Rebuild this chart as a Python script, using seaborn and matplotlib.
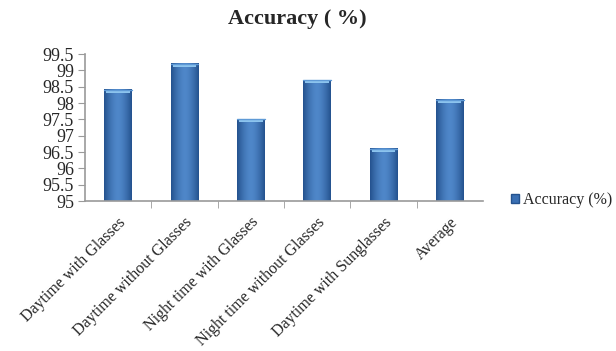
import numpy as np
import pandas as pd
import matplotlib
matplotlib.use("Agg")
import matplotlib.pyplot as plt
import seaborn as sns
from matplotlib.patches import Patch

categories = ["Daytime with Glasses", "Daytime without Glasses", "Night time with Glasses",
              "Night time without Glasses", "Daytime with Sunglasses", "Average"]
accuracy = [98.4, 99.2, 97.5, 98.7, 96.6, 98.1]
y_ticks = [95, 95.5, 96, 96.5, 97, 97.5, 98, 98.5, 99, 99.5]
series_name = "Accuracy (%)"
title_text = "Accuracy ( %)"

sns.set_style("white")
plt.rcParams["font.family"] = ["Liberation Serif", "DejaVu Serif"]

df = pd.DataFrame({"Condition": categories, "Accuracy": accuracy})

fig = plt.figure(figsize=(6.16, 3.51), dpi=100)
ax = fig.add_axes([0.138, 0.427, 0.646, 0.419])

sns.barplot(data=df, x="Condition", y="Accuracy", color="#3a6fb3", width=0.42,
            saturation=1, ax=ax, edgecolor="none")

ymin, ymax = 95, 99.5
ax.set_ylim(ymin, ymax)
ax.set_xlim(-0.5, len(categories) - 0.5)
ax.set_yticks(y_ticks)
ax.set_yticklabels([f"{t:g}" for t in y_ticks], fontsize=13)

# shaded fill for each bar: darker at the sides, lighter toward the middle, pale cap on top
grad = np.linspace(-1, 1, 64)
shade = 1 - np.abs(grad) ** 1.6
dark = np.array([0x24, 0x52, 0x8e]) / 255
light = np.array([0x4f, 0x87, 0xc9]) / 255
img = dark[None, None, :] + (light - dark)[None, None, :] * shade[None, :, None]
img = np.repeat(img, 2, axis=0)
for p in list(ax.patches):
    x0, w = p.get_x(), p.get_width()
    top = p.get_y() + p.get_height()
    ax.imshow(img, extent=[x0, x0 + w, ymin, top], aspect="auto", zorder=2,
              interpolation="bilinear")
    cap = 0.09
    ax.fill_between([x0 + w * 0.08, x0 + w * 0.92], top - cap, top - 0.01,
                    color="#8cc4ee", zorder=3, lw=0)
    ax.plot([x0, x0 + w], [top, top], color="#5f9ad6", lw=1, zorder=3)
ax.set_ylim(ymin, ymax)
ax.set_xlim(-0.5, len(categories) - 0.5)

for s in ["top", "right"]:
    ax.spines[s].set_visible(False)
for s in ["left", "bottom"]:
    ax.spines[s].set_color("#9a9a9a")
    ax.spines[s].set_linewidth(1.2)
    ax.spines[s].set_zorder(4)

ax.tick_params(axis="y", which="both", left=True, length=5, color="#9a9a9a", pad=3)
ax.set_xticks(range(len(categories)))
ax.set_xticklabels(categories, rotation=45, ha="right", rotation_mode="anchor", fontsize=11.5)
ax.tick_params(axis="x", which="major", bottom=False, pad=6)
ax.set_xticks(np.arange(0.5, len(categories) - 0.5, 1), minor=True)
ax.tick_params(axis="x", which="minor", bottom=True, length=5, color="#9a9a9a")
ax.set_xlabel("")
ax.set_ylabel("")

fig.text(0.483, 0.945, title_text, ha="center", va="center", fontsize=16, fontweight="bold")

handle = Patch(facecolor="#3a6fb3", edgecolor="#24528e")
fig.legend([handle], [series_name], loc="center left", bbox_to_anchor=(0.829, 0.43),
           frameon=False, fontsize=11.5, handlelength=0.55, handleheight=0.55,
           handletextpad=0.25, borderaxespad=0, borderpad=0)

fig.savefig("out.png", dpi=100)
